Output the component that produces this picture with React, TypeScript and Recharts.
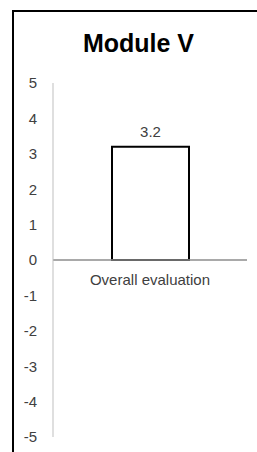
import { BarChart, Bar, XAxis, YAxis, ReferenceLine, LabelList } from 'recharts';

const categories = ['Overall evaluation'];
const scores = [3.2];
const yTicks = [-5, -4, -3, -2, -1, 0, 1, 2, 3, 4, 5];

const data = categories.map((name, i) => ({ name, value: scores[i] }));

const FONT = '"Liberation Sans", Arial, sans-serif';

export default function App() {
  return (
    <div
      style={{
        position: 'absolute',
        top: 0,
        left: 0,
        width: 257,
        height: 452,
        overflow: 'hidden',
        background: '#fff',
        fontFamily: FONT,
      }}
    >
      {/* chart frame, cropped on the right and bottom */}
      <div
        style={{
          position: 'absolute',
          left: 12,
          top: 10,
          width: 400,
          height: 600,
          borderLeft: '2px solid #000',
          borderTop: '2px solid #000',
          boxSizing: 'border-box',
        }}
      />
      <div
        style={{
          position: 'absolute',
          left: 0,
          top: 29,
          width: 277,
          textAlign: 'center',
          fontSize: 25,
          fontWeight: 'bold',
          color: '#000',
          lineHeight: '28px',
        }}
      >
        Module V
      </div>
      <div style={{ position: 'absolute', left: 0, top: 0 }}>
        <BarChart
          width={257}
          height={452}
          data={data}
          margin={{ top: 83, right: 10, bottom: 15, left: 13 }}
        >
          <XAxis dataKey="name" hide />
          <YAxis
            width={40}
            domain={[-5, 5]}
            ticks={yTicks}
            interval={0}
            tickLine={false}
            tickSize={0}
            tickMargin={16}
            axisLine={{ stroke: '#bfbfbf', strokeWidth: 1 }}
            tick={{ fill: '#404040', fontSize: 15, fontFamily: FONT }}
          />
          <ReferenceLine
            y={0}
            stroke="#8c8c8c"
            strokeWidth={1.5}
            label={{
              value: categories[0],
              position: 'bottom',
              offset: 14,
              fill: '#404040',
              fontSize: 15,
              fontFamily: FONT,
            }}
          />
          <Bar
            dataKey="value"
            fill="#fff"
            stroke="#000"
            strokeWidth={2}
            barSize={77}
            isAnimationActive={false}
          >
            <LabelList
              dataKey="value"
              position="top"
              offset={10}
              fill="#404040"
              fontSize={15}
              fontFamily={FONT}
            />
          </Bar>
        </BarChart>
      </div>
    </div>
  );
}
